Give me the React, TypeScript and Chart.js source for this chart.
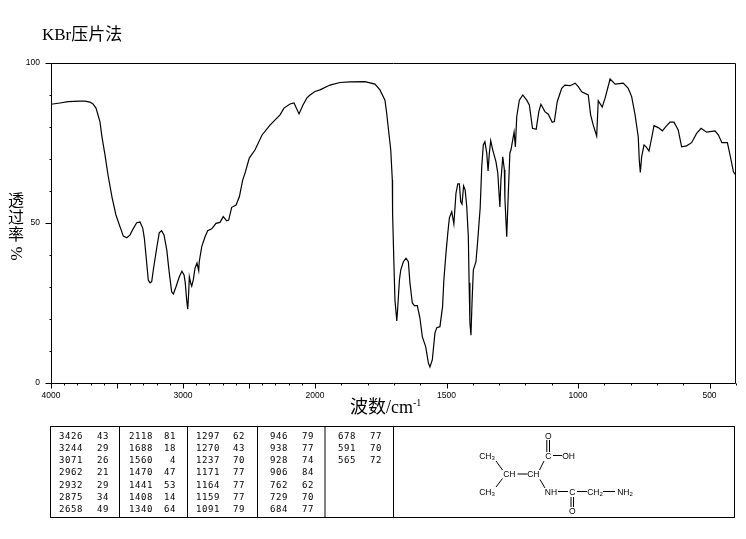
import { useEffect, useRef } from 'react'
import { Chart, registerables } from 'chart.js'
Chart.register(...registerables)

// spectrum
const wavenumbers = [
  4000, 3932, 3871, 3780, 3742, 3705, 3682, 3659, 3644, 3629, 3614, 3591, 3568, 3538, 3508, 3477, 3452, 3426, 3401, 3379,
  3351, 3326, 3305, 3293, 3275, 3263, 3250, 3237, 3225, 3199, 3180, 3162, 3144, 3123, 3104, 3086, 3073, 3053, 3028, 3008,
  2992, 2983, 2972, 2964, 2957, 2952, 2942, 2934, 2922, 2909, 2894, 2881, 2877, 2858, 2833, 2813, 2782, 2750, 2720, 2695,
  2669, 2654, 2631, 2598, 2573, 2548, 2530, 2498, 2455, 2401, 2341, 2265, 2235, 2189, 2159, 2121, 2091, 2061, 2038, 2000,
  1981, 1943, 1905, 1867, 1810, 1772, 1753, 1734, 1728, 1712, 1706, 1705, 1700, 1696, 1689, 1686, 1679, 1674, 1664, 1654,
  1645, 1639, 1630, 1622, 1611, 1601, 1592, 1579, 1569, 1563, 1554, 1544, 1537, 1525, 1515, 1510, 1502, 1495, 1489, 1480,
  1472, 1464, 1457, 1451, 1446, 1441, 1435, 1429, 1423, 1417, 1414, 1411, 1407, 1403, 1398, 1388, 1382, 1372, 1366, 1360,
  1354, 1347, 1342, 1337, 1332, 1324, 1312, 1305, 1297, 1293, 1286, 1280, 1278, 1271, 1265, 1259, 1255, 1243, 1238, 1233,
  1223, 1210, 1195, 1185, 1173, 1159, 1149, 1141, 1126, 1113, 1098, 1090, 1079, 1062, 1050, 1030, 1011, 999, 986, 961,
  952, 942, 929, 923, 908, 897, 878, 859, 828, 809, 796, 783, 771, 767, 763, 758, 749, 741, 730, 720,
  711, 695, 679, 666, 650, 635, 619, 606, 587, 568, 549, 532, 511, 479, 466, 453, 432, 422, 409, 400,
]
const transmittance = [
  87.1, 87.5, 87.9, 88.1, 88.1, 87.8, 87.2, 85.9, 83.8, 81.6, 76.9, 71.3, 65, 58.1, 52.5, 48.8, 45.9, 45.4, 46.3, 48.1,
  50.1, 50.3, 48.4, 45.3, 37.5, 32.2, 31.3, 31.7, 35.3, 42.2, 46.9, 47.6, 46.3, 41.6, 34.4, 28.5, 27.8, 30.1, 33.2, 34.9,
  33.8, 31.3, 25.9, 23.1, 28.1, 33.2, 31.3, 30.3, 32.2, 35.9, 37.5, 35.1, 37.9, 42.6, 45.7, 47.6, 48.2, 49.9, 50.2, 52,
  50.7, 50.9, 54.9, 55.6, 58.2, 63.4, 65.6, 70.3, 72.8, 77.5, 80.6, 83.8, 85.9, 87.2, 87.5, 84.1, 86.9, 89.1, 90, 91.1,
  91.6, 93.1, 93.9, 94.1, 94.2, 93.4, 91.6, 88.4, 84.7, 72.8, 63.4, 53.1, 37.5, 25.9, 19.4, 22.8, 32.2, 35.3, 37.9, 39,
  37.9, 31.3, 25, 24.2, 24.2, 20.3, 14.5, 11.3, 6.3, 5, 7.2, 15.6, 17.3, 17.6, 23.8, 32.2, 40.6, 46.9, 51.6, 53.5,
  49.7, 59.3, 62.2, 62.2, 56.7, 55.9, 61.6, 60.3, 55.1, 45.7, 31.3, 18.8, 14.9, 25, 35.3, 37.9, 43.8, 54.7, 67.6, 74.4,
  75.4, 71.9, 66.3, 71.9, 75.7, 72.8, 69.2, 65.6, 55, 63.4, 70.7, 66.6, 57.8, 45.7, 59.4, 71.9, 72.8, 78.4, 73.8, 83.2,
  88.4, 90, 88.4, 86.9, 79.6, 79.3, 84.8, 87.1, 84.8, 84, 81.5, 81.7, 87.9, 92.1, 93.1, 92.9, 93.7, 92.6, 91, 90,
  83.8, 80.6, 77.2, 88.2, 86.2, 89, 95, 93.4, 93.7, 92.1, 89.5, 83.8, 77, 69.7, 65.8, 70.7, 74.4, 73.8, 72.5, 76.5,
  80.4, 79.8, 78.8, 80.1, 81.5, 81.5, 79.1, 73.8, 74.1, 75.1, 78, 79.6, 78.4, 78.8, 77.5, 75.1, 75.1, 71.3, 66, 65,
]

const xLabels = [4000, 3000, 2000, 1500, 1000, 500]
const xMajor = [4000, 3500, 3000, 2500, 2000, 1500, 1000, 500]
const xMinor = [
  3900, 3800, 3700, 3600, 3400, 3300, 3200, 3100, 2900, 2800, 2700, 2600, 2400, 2300, 2200, 2100,
  1900, 1800, 1700, 1600, 1400, 1300, 1200, 1100, 900, 800, 700, 600, 400,
]
const yLabels = [0, 50, 100]
const yMinor = [10, 20, 30, 40, 60, 70, 80, 90]

const peakColumns = [
  [['3426', '43'], ['3244', '29'], ['3071', '26'], ['2962', '21'], ['2932', '29'], ['2875', '34'], ['2658', '49']],
  [['2118', '81'], ['1688', '18'], ['1560', '4'], ['1470', '47'], ['1441', '53'], ['1408', '14'], ['1340', '64']],
  [['1297', '62'], ['1270', '43'], ['1237', '70'], ['1171', '77'], ['1164', '77'], ['1159', '77'], ['1091', '79']],
  [['946', '79'], ['938', '77'], ['928', '74'], ['906', '84'], ['762', '62'], ['729', '70'], ['684', '77']],
  [['678', '77'], ['591', '70'], ['565', '72']],
]
const colRights = [[83, 109], [153, 176], [220, 245], [288, 314], [356, 382]]
const colLines = [119, 187, 257, 324.5, 393]

// the axis doubles its scale below 2000 cm-1
const pos = (w: number) => (w >= 2000 ? ((4000 - w) / 1000) * 132 : 264 + ((2000 - w) / 500) * 131.5)

const tickFont = { family: "'Liberation Sans'", size: 8.5 }
const serif = "'Liberation Serif','Noto Sans CJK SC',serif"
const small = "'Liberation Sans',sans-serif"

const framePlugin = {
  id: 'frame',
  afterDraw(chart: Chart) {
    const { ctx, chartArea: a, scales } = chart
    ctx.save()
    ctx.strokeStyle = '#000'
    ctx.lineWidth = 1
    const line = (x1: number, y1: number, x2: number, y2: number) => {
      ctx.beginPath()
      ctx.moveTo(Math.round(x1) + 0.5, Math.round(y1) + 0.5)
      ctx.lineTo(Math.round(x2) + 0.5, Math.round(y2) + 0.5)
      ctx.stroke()
    }
    line(a.left, a.top, a.right, a.top)
    line(a.right, a.top, a.right, a.bottom)
    line(a.left, a.top, a.left, a.bottom)
    line(a.left, a.bottom, a.right, a.bottom)
    xMajor.forEach(w => { const x = scales.x.getPixelForValue(pos(w)); line(x, a.bottom, x, a.bottom + 5) })
    xMinor.forEach(w => { const x = scales.x.getPixelForValue(pos(w)); line(x, a.bottom, x, a.bottom + 2) })
    yLabels.forEach(v => { const y = scales.y.getPixelForValue(v); line(a.left - 6, y, a.left, y) })
    yMinor.forEach(v => { const y = scales.y.getPixelForValue(v); line(a.left - 2, y, a.left, y) })
    ctx.restore()
  },
}

function Chem({ x, y, t, sub }: { x: number; y: number; t: string; sub?: string }) {
  return (
    <text x={x} y={y + 3} textAnchor="middle" fontSize={8.5} fontFamily={small}>
      {t}
      {sub && <tspan fontSize={6} dy={1.5}>{sub}</tspan>}
    </text>
  )
}

export default function App() {
  const ref = useRef<HTMLCanvasElement>(null)

  useEffect(() => {
    if (!ref.current) return
    const chart = new Chart(ref.current, {
      type: 'line',
      data: {
        datasets: [{
          data: wavenumbers.map((w, i) => ({ x: pos(w), y: transmittance[i] })),
          borderColor: '#000',
          borderWidth: 1.2,
          pointRadius: 0,
          tension: 0,
          fill: false,
        }],
      },
      options: {
        responsive: false,
        animation: false,
        layout: { padding: { top: 63, right: 11, left: 0, bottom: 0 } },
        plugins: { legend: { display: false }, tooltip: { enabled: false } },
        scales: {
          x: {
            type: 'linear',
            min: 0,
            max: 684,
            grid: { display: false, drawTicks: false },
            border: { display: false },
            afterBuildTicks: (s: any) => { s.ticks = xLabels.map(w => ({ value: pos(w) })) },
            afterFit: (s: any) => { s.height = 156 },
            ticks: {
              autoSkip: false, maxRotation: 0, padding: 8, color: '#000', font: tickFont,
              callback: (_v: any, i: number) => String(xLabels[i]),
            },
          },
          y: {
            min: 0,
            max: 100,
            grid: { display: false, drawTicks: false },
            border: { display: false },
            afterBuildTicks: (s: any) => { s.ticks = yLabels.map(v => ({ value: v })) },
            afterFit: (s: any) => { s.width = 51 },
            ticks: { padding: 11, color: '#000', font: tickFont },
          },
        },
      },
      plugins: [framePlugin],
    } as any)
    return () => chart.destroy()
  }, [])

  return (
    <div style={{ position: 'absolute', left: 0, top: 0, width: 746, height: 539, background: '#fff', overflow: 'hidden' }}>
      <canvas ref={ref} width={746} height={539} style={{ position: 'absolute', left: 0, top: 0 }} />

      <div style={{ position: 'absolute', left: 42, top: 25, fontFamily: serif, fontSize: 17, lineHeight: '20px', whiteSpace: 'nowrap' }}>KBr压片法</div>
      <div style={{ position: 'absolute', left: 6, top: 191, width: 20, textAlign: 'center', fontFamily: "'Noto Sans CJK SC',serif", fontSize: 16, lineHeight: '17px' }}>
        <div>透</div>
        <div>过</div>
        <div>率</div>
        <div style={{ fontFamily: serif, fontSize: 17, marginTop: 3, transform: 'rotate(90deg)' }}>%</div>
      </div>
      <div style={{ position: 'absolute', left: 350, top: 396, fontFamily: serif, fontSize: 18, lineHeight: '22px', whiteSpace: 'nowrap' }}>
        波数/cm<sup style={{ fontSize: 10, lineHeight: 0 }}>-1</sup>
      </div>

      <svg width={746} height={539} style={{ position: 'absolute', left: 0, top: 0 }}>
        <rect x={50.5} y={426.5} width={684} height={91} fill="none" stroke="#000" />
        {colLines.map(x => <line key={x} x1={x + 0.5} x2={x + 0.5} y1={426} y2={518} stroke="#000" />)}
        {peakColumns.map((col, c) => col.map(([w, t], r) => (
          <g key={w + r} fontFamily="'DejaVu Sans Mono',monospace" fontSize={9} textAnchor="end" letterSpacing={0.6}>
            <text x={colRights[c][0]} y={438.5 + r * 12.3}>{w}</text>
            <text x={colRights[c][1]} y={438.5 + r * 12.3}>{t}</text>
          </g>
        )))}

        <g stroke="#000" strokeWidth={1}>
          <line x1={546.8} y1={440} x2={546.8} y2={452} />
          <line x1={549.5} y1={440} x2={549.5} y2={452} />
          <line x1={553} y1={455.5} x2={562} y2={455.5} />
          <line x1={544} y1={461} x2={539.5} y2={470} />
          <line x1={517.5} y1={474} x2={527.5} y2={474} />
          <line x1={496} y1={461} x2={502.5} y2={470} />
          <line x1={496} y1={487} x2={502.5} y2={478.5} />
          <line x1={540} y1={479.5} x2={545} y2={488} />
          <line x1={558} y1={491.5} x2={568} y2={491.5} />
          <line x1={571} y1={497} x2={571} y2={507} />
          <line x1={573.5} y1={497} x2={573.5} y2={507} />
          <line x1={577} y1={491.5} x2={587} y2={491.5} />
          <line x1={603} y1={491.5} x2={615} y2={491.5} />
        </g>
        <Chem x={548.3} y={435.7} t="O" />
        <Chem x={548.3} y={455.7} t="C" />
        <Chem x={568.5} y={455.7} t="OH" />
        <Chem x={533.3} y={473.5} t="CH" />
        <Chem x={509.3} y={473.5} t="CH" />
        <Chem x={487} y={455.7} t="CH" sub="3" />
        <Chem x={487} y={491.7} t="CH" sub="3" />
        <Chem x={551} y={491.7} t="NH" />
        <Chem x={572.3} y={491.7} t="C" />
        <Chem x={572.3} y={510.7} t="O" />
        <Chem x={595} y={491.7} t="CH" sub="2" />
        <Chem x={625} y={491.7} t="NH" sub="2" />
      </svg>
    </div>
  )
}
